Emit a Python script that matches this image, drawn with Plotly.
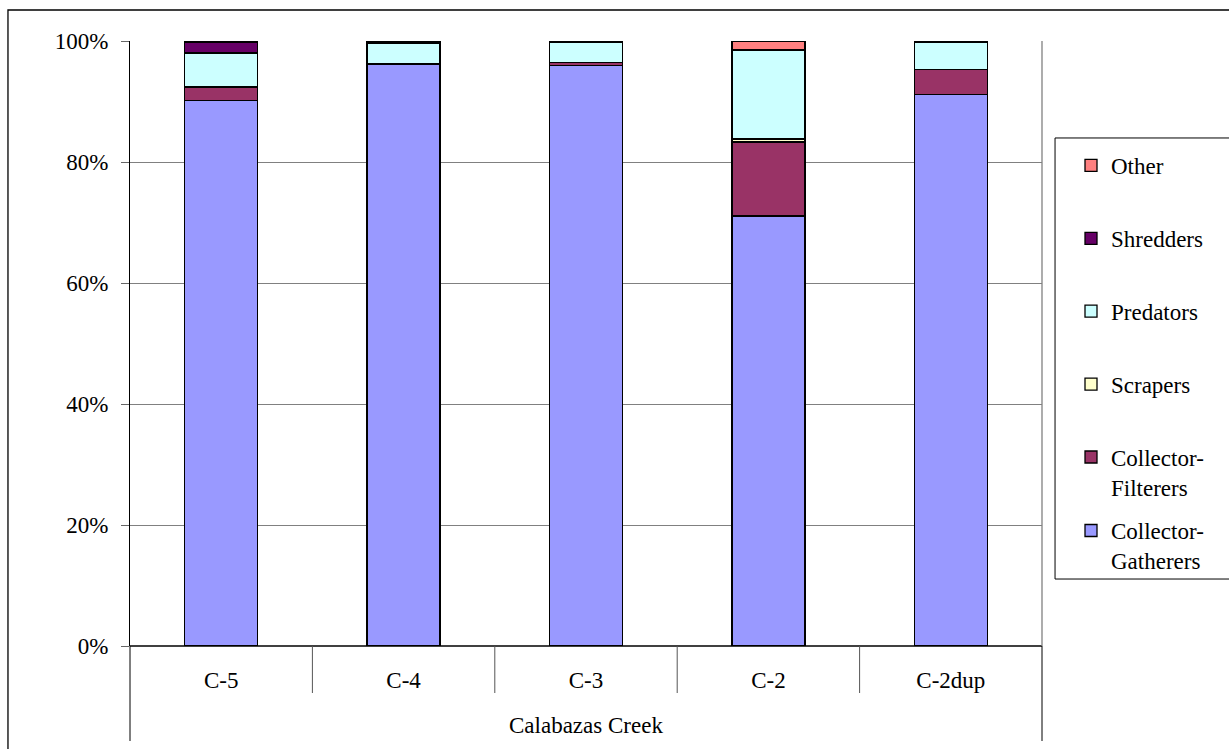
import plotly.graph_objects as go

# Functional feeding groups at each Calabazas Creek station (percent of individuals)
stations = ["C-5", "C-4", "C-3", "C-2", "C-2dup"]
site = "Calabazas Creek"

collector_gatherers = [90.2, 96.2, 96.0, 71.1, 91.2]
collector_filterers = [2.2, 0.1, 0.4, 12.2, 4.1]
scrapers = [0.0, 0.0, 0.0, 0.5, 0.0]
predators = [5.6, 3.3, 3.4, 14.7, 4.5]
shredders = [1.8, 0.1, 0.1, 0.0, 0.1]
other = [0.2, 0.3, 0.1, 1.5, 0.1]

series = [
    ("Collector-<br>Gatherers", collector_gatherers, "#9999FF", "legend2"),
    ("Collector-<br>Filterers", collector_filterers, "#993366", "legend"),
    ("Scrapers", scrapers, "#FFFFCC", "legend"),
    ("Predators", predators, "#CCFFFF", "legend"),
    ("Shredders", shredders, "#660066", "legend"),
    ("Other", other, "#FF8080", "legend"),
]

FONT = "Liberation Serif, Times New Roman, serif"
FS = 23

fig = go.Figure()
for i, (name, vals, color, leg) in enumerate(series):
    fig.add_trace(go.Bar(
        x=stations, y=vals, name=name,
        marker=dict(color=color, line=dict(color="black", width=1.3)),
        width=0.4, legendgroup=f"g{i}", legend=leg,
        legendrank=100 - i,  # top of the stack listed first
    ))

legend_common = dict(
    xanchor="left", yanchor="top",
    traceorder="grouped", tracegroupgap=40,
    borderwidth=0, bgcolor="rgba(0,0,0,0)",
    font=dict(family=FONT, size=FS, color="black"),
    valign="top", itemwidth=30,
)

fig.update_layout(
    barmode="stack",
    width=1229, height=749,
    margin=dict(l=130, r=187, t=41, b=103),
    paper_bgcolor="white", plot_bgcolor="white",
    font=dict(family=FONT, size=FS, color="black"),
    showlegend=True,
    legend=dict(x=1.0318, y=0.8298, **legend_common),
    legend2=dict(x=1.0318, y=0.2264, **legend_common),
    xaxis=dict(
        type="category", showgrid=False, showline=False, zeroline=False,
        ticks="", tickfont=dict(family=FONT, size=FS), ticklabelstandoff=18,
    ),
    yaxis=dict(
        range=[0, 100], tickvals=[0, 20, 40, 60, 80, 100],
        ticktext=["0%", "20%", "40%", "60%", "80%", "100%"],
        showgrid=True, gridcolor="#808080", gridwidth=1,
        showline=True, linecolor="black", linewidth=1,
        ticks="outside", ticklen=8, tickcolor="#666666",
        ticklabelstandoff=8, zeroline=False,
        tickfont=dict(family=FONT, size=FS),
    ),
)

shapes = []
# bottom axis line and right edge of the plot area
shapes.append(dict(type="line", xref="paper", yref="paper", x0=0, x1=1, y0=0, y1=0,
                   line=dict(color="black", width=1.3)))
shapes.append(dict(type="line", xref="paper", yref="paper", x0=1, x1=1, y0=0, y1=1,
                   line=dict(color="#808080", width=1.3)))
# dividers between station labels
for k in range(1, len(stations)):
    xk = k / len(stations)
    shapes.append(dict(type="line", xref="paper", yref="paper", x0=xk, x1=xk,
                       y0=0, y1=-0.0777, line=dict(color="#555555", width=1)))
# outer dividers for the site group
for xk in (0, 1):
    shapes.append(dict(type="line", xref="paper", yref="paper", x0=xk, x1=xk,
                       y0=0, y1=-0.157, line=dict(color="black", width=1)))
# chart frame
shapes.append(dict(type="rect", xref="paper", yref="paper",
                   x0=-0.1338, x1=1.3, y0=-0.3, y1=1.0512,
                   line=dict(color="black", width=1.3), fillcolor="rgba(0,0,0,0)",
                   layer="below"))
# legend frame
shapes.append(dict(type="rect", xref="paper", yref="paper",
                   x0=1.0143, x1=1.3, y0=0.1107, y1=0.8397,
                   line=dict(color="black", width=1), fillcolor="white",
                   layer="below"))
fig.update_layout(shapes=shapes)

fig.add_annotation(text=site, xref="paper", yref="paper", x=0.5, y=-0.132,
                   showarrow=False, font=dict(family=FONT, size=FS, color="black"),
                   xanchor="center", yanchor="middle")

fig.write_html("out.html")
